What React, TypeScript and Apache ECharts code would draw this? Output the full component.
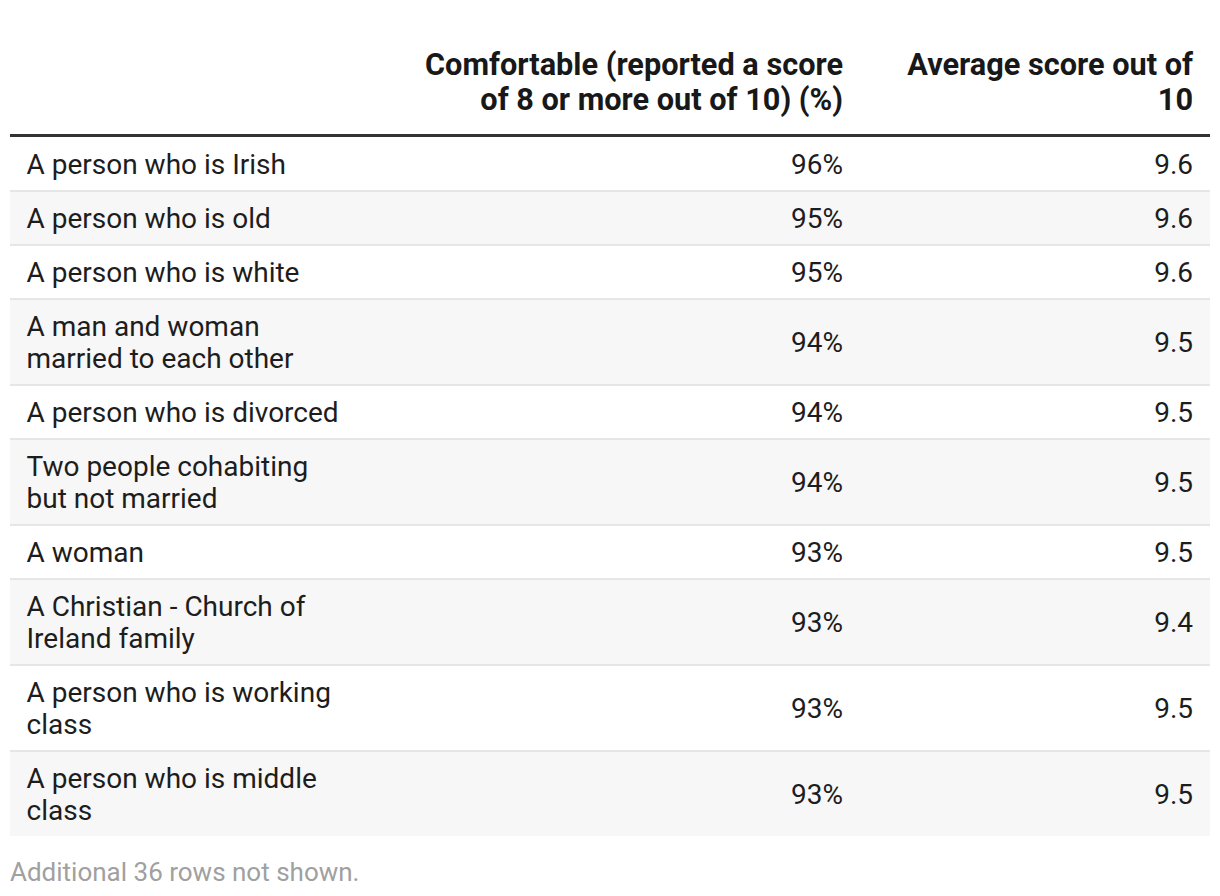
import React, { useEffect, useRef } from "react";
import * as echarts from "echarts";

const categories = [
  "A person who is Irish",
  "A person who is old",
  "A person who is white",
  "A man and woman married to each other",
  "A person who is divorced",
  "Two people cohabiting but not married",
  "A woman",
  "A Christian - Church of Ireland family",
  "A person who is working class",
  "A person who is middle class",
];
const comfortable = [96, 95, 95, 94, 94, 94, 93, 93, 93, 93];
const averageScore = [9.6, 9.6, 9.6, 9.5, 9.5, 9.5, 9.5, 9.4, 9.5, 9.5];
const columnHeaders = [
  "",
  "Comfortable (reported a score of 8 or more out of 10) (%)",
  "Average score out of 10",
];
const hiddenRows = 36;

const FONT = "Roboto, 'Noto Sans', sans-serif";

function wrap(ctx: CanvasRenderingContext2D, text: string, font: string, maxW: number): string[] {
  ctx.font = font;
  const words = text.split(" ");
  const lines: string[] = [];
  let cur = "";
  for (const w of words) {
    const t = cur ? cur + " " + w : w;
    if (cur && ctx.measureText(t).width > maxW) {
      lines.push(cur);
      cur = w;
    } else cur = t;
  }
  if (cur) lines.push(cur);
  return lines;
}

export default function App() {
  const ref = useRef<HTMLDivElement>(null);
  useEffect(() => {
    document.body.style.margin = "0";
    if (!ref.current) return;
    const chart = echarts.init(ref.current, undefined, { renderer: "svg" });
    const ctx = document.createElement("canvas").getContext("2d") as CanvasRenderingContext2D;

    const left = 10;
    const right = 1210;
    const col1X = 26.5;
    const col2R = 843;
    const col3R = 1193;
    const bodyFont = `28px ${FONT}`;
    const headFont = `bold 30.7px ${FONT}`;
    const lineH = 32;
    const pad = 11;
    const textColor = "#1d1d1d";

    const elements: any[] = [];

    // header
    const headWidths = [318, 440, 305];
    const headRight = [col1X, col2R, col3R];
    columnHeaders.forEach((h, i) => {
      if (!h) return;
      const lines = wrap(ctx, h, headFont, headWidths[i]);
      elements.push({
        type: "text",
        x: headRight[i],
        y: 117,
        style: {
          text: lines.join("\n"),
          font: headFont,
          fill: "#181818",
          align: i === 0 ? "left" : "right",
          verticalAlign: "bottom",
          lineHeight: 35,
        },
      });
    });

    const headerLineY = 134;
    let y = headerLineY + 2;
    categories.forEach((c, i) => {
      const lines = wrap(ctx, c, bodyFont, 318);
      const h = lines.length * lineH + pad * 2;
      if (i % 2 === 1) {
        elements.push({
          type: "rect",
          shape: { x: left, y, width: right - left, height: h },
          style: { fill: "#f7f7f7" },
          z: 0,
        });
      }
      if (i > 0) {
        elements.push({
          type: "rect",
          shape: { x: left, y, width: right - left, height: 2 },
          style: { fill: "#e6e6e6" },
          z: 1,
        });
      }
      const cy = y + h / 2 + 1;
      elements.push({
        type: "text",
        x: col1X,
        y: cy,
        z: 2,
        style: {
          text: lines.join("\n"),
          font: bodyFont,
          fill: textColor,
          align: "left",
          verticalAlign: "middle",
          lineHeight: lineH,
        },
      });
      elements.push({
        type: "text",
        x: col2R,
        y: cy,
        z: 2,
        style: {
          text: `${comfortable[i]}%`,
          font: bodyFont,
          fill: textColor,
          align: "right",
          verticalAlign: "middle",
        },
      });
      elements.push({
        type: "text",
        x: col3R,
        y: cy,
        z: 2,
        style: {
          text: averageScore[i].toFixed(1),
          font: bodyFont,
          fill: textColor,
          align: "right",
          verticalAlign: "middle",
        },
      });
      y += h;
    });

    elements.push({
      type: "rect",
      shape: { x: left, y: headerLineY, width: right - left, height: 3 },
      style: { fill: "#333333" },
      z: 3,
    });

    elements.push({
      type: "text",
      x: left,
      y: y + 36,
      style: {
        text: `Additional ${hiddenRows} rows not shown.`,
        font: `26px ${FONT}`,
        fill: "#a0a0a0",
        align: "left",
        verticalAlign: "middle",
      },
    });

    chart.setOption({
      animation: false,
      backgroundColor: "#ffffff",
      graphic: { elements },
    });
    return () => chart.dispose();
  }, []);
  return <div ref={ref} style={{ width: 1220, height: 896 }} />;
}
